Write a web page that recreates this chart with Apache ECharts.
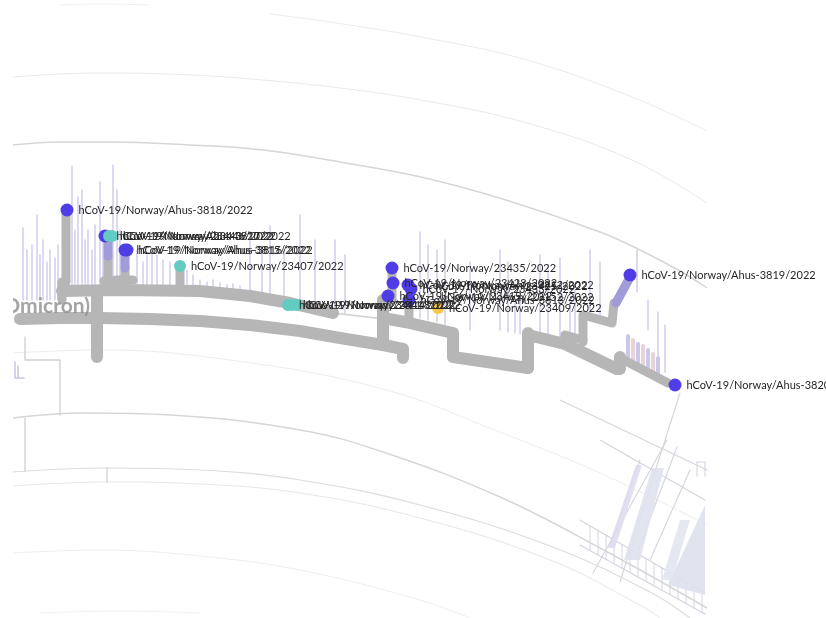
<!DOCTYPE html>
<html>
<head>
<meta charset="utf-8">
<script src="https://cdn.jsdelivr.net/npm/echarts@6/dist/echarts.min.js"></script>
<style>
html,body{margin:0;padding:0;background:#fff;}
#chart{width:826px;height:618px;}
</style>
</head>
<body>
<div id="chart"></div>
<script>
// Layout space of the radial tree view: x to the right, y downwards.

// Faint connector arcs of neighbouring clades
const guideArcs = [
  { pts: [[60,5],[100,4],[150,5]], color: '#f0f0f0', w: 1 },
  { pts: [[270,14],[330,22],[421,37],[527,60],[632,97],[707,131]], color: '#ebebeb', w: 1 },
  { pts: [[13,77],[60,74],[110,73],[190,75],[263,80],[340,88],[421,100],[527,123],[632,160],[707,203]], color: '#e9e9e9', w: 1 },
  { pts: [[13,145],[60,142],[110,142],[190,145],[263,150],[340,162],[421,177],[506,200],[600,232],[640,250],[680,271],[707,288]], color: '#d6d6d6', w: 1.5 },
  { pts: [[13,353],[100,350],[230,360],[383,389],[497,431],[600,473],[707,525]], color: '#ececec', w: 1 },
  { pts: [[13,418],[83,413],[170,415],[300,430],[383,452],[500,497],[600,548],[707,608]], color: '#d6d6d6', w: 1.5 },
  { pts: [[13,472],[107,468],[200,470],[300,480],[420,505],[550,546],[650,592],[690,618]], color: '#dcdcdc', w: 1.2 },
  { pts: [[13,486],[107,482],[200,484],[300,493],[420,518],[550,560],[640,605],[660,618]], color: '#e6e6e6', w: 1 },
  { pts: [[13,553],[100,550],[200,556],[300,570],[420,600],[470,618]], color: '#eeeeee', w: 1 },
  { pts: [[40,613],[120,611],[200,613]], color: '#f0f0f0', w: 1 }
];

// Thin connectors in the lower-left part of the view
const thinConnectors = [
  [[25,337],[25,360],[60,360],[60,415]],
  [[25,418],[25,471]],
  [[107,468],[107,482]],
  [[333,313],[393,320]],
  [[380,338],[402,344]]
];

// Small collapsed tips at the left edge
const edgeTips = [
  [[15,362],[15,378],[24,378]],
  [[18,366],[18,378]]
];

// Main trunk (thick grey)
const trunkPaths = [
  [[20,319],[60,318],[100,318],[150,319],[200,321],[250,325],[300,331],[340,338],[383,345],[403,349],[403,358]],
  [[62,291],[120,290],[200,291],[250,296],[290,303],[333,313]],
  [[97,291],[97,357]],
  [[383,300],[383,345]],
  [[383,318],[405,322],[453,333],[453,357],[528,368]],
  [[528,368],[528,333]],
  [[528,335],[565,344],[617,369],[620,369],[620,357]]
];

// Internal branches leading to sampled tips (grey)
const stemPaths = [
  [[66,214],[66,282],[62,282],[62,300]],
  [[108,256],[108,285]],
  [[104,281],[113,281]],
  [[125,268],[125,290]],
  [[116,280],[133,280]],
  [[180,270],[180,290]],
  [[392,272],[392,300]],
  [[409,300],[409,320]],
  [[565,344],[565,335],[583,340]],
  [[583,342],[583,315],[612,323],[614,303]],
  [[620,358],[668,383]]
];

// Terminal branches coloured by sample group (purple)
const tintedStems = [
  [[108,241],[108,256]],
  [[125,255],[125,268]],
  [[616,303],[629,279]]
];

// Other tips of the clade: [x, top, bottom]
const tipLines = [
  [23,228,300],[27,250,300],[32,245,300],[37,215,300],[40,255,300],[43,240,300],[47,262,300],
  [50,250,300],[55,258,300],[58,245,300],[72,166,290],[75,230,290],[78,197,290],[82,190,290],
  [85,240,290],[88,230,290],[92,250,290],[95,225,290],[100,182,290],[103,235,290],[113,165,290],
  [117,190,290],[120,230,290],[137,250,290],[143,262,290],[147,255,290],[152,250,290],[157,255,290],
  [163,260,290],[170,262,290],[187,270,292],[193,275,292],[200,280,293],[207,282,293],[213,280,294],
  [220,283,295],[227,285,296],[233,284,296],[240,286,297],[250,232,300],[262,246,301],[270,226,302],
  [284,250,304],[300,215,306],[315,240,308],[335,240,312],[345,255,313],
  [420,232,318],[428,245,320],[437,250,322],[445,240,325],[470,262,330],[500,250,330],[508,262,332],
  [515,300,333],[520,290,334],[540,255,340],[548,265,341],[560,258,343],[570,300,345],[575,290,345],
  [590,250,315],[600,262,320],[637,250,292],[648,300,330],[658,312,360],[665,325,372]
];

// Short tips along the lower right branch: [x, top, bottom]
const shortTips = [
  [628,336,362],[633,340,364],[638,344,366],[643,346,368],[648,350,371],[653,354,373],[658,358,376]
];

// Dense clade in the lower right corner: slanted branch segments
const cornerLines = [
  [[680,393],[620,582]],
  [[667,440],[593,573]],
  [[640,460],[610,547]],
  [[677,447],[637,553]],
  [[690,470],[650,560]],
  [[697,462],[697,476]],[[705,462],[705,476]],[[697,462],[705,462]],
  [[580,520],[705,593]],
  [[580,545],[705,614]],
  [[600,440],[705,500]],
  [[560,400],[707,470]]
];
const cornerTicks = [590,598,606,614,622,630,638,646,654,662,670,678,686,694,702];

// Filled clade blocks in the lower right corner
const cornerBlocks = [
  { pts: [[652,468],[664,468],[640,560],[624,560]], color: '#dfe2ee' },
  { pts: [[705,505],[705,595],[668,585]], color: '#dde1ec' },
  { pts: [[636,465],[642,465],[615,548],[608,548]], color: '#e0dcef' },
  { pts: [[680,520],[690,520],[672,580],[662,580]], color: '#e2e6ef' }
];

// Sampled tips (Norway)
const blueTips = [
  { name: 'hCoV-19/Norway/Ahus-3818/2022', value: [67,210] },
  { name: 'hCoV-19/Norway/Ahus-3817/2022', value: [105,236] },
  { name: 'hCoV-19/Norway/Ahus-3815/2022', value: [125,250] },
  { name: 'hCoV-19/Norway/Ahus-3816/2022', value: [127,250] },
  { name: 'hCoV-19/Norway/23435/2022', value: [392,268] },
  { name: 'hCoV-19/Norway/23428/2022', value: [393,283] },
  { name: 'hCoV-19/Norway/Ahus-3812/2022', value: [408,285] },
  { name: 'hCoV-19/Norway/23433/2022', value: [411,289] },
  { name: 'hCoV-19/Norway/23419/2022', value: [388,296] },
  { name: 'hCoV-19/Norway/Ahus-3813/2022', value: [409,300] },
  { name: 'hCoV-19/Norway/Ahus-3819/2022', value: [630,275] },
  { name: 'hCoV-19/Norway/Ahus-3820/2022', value: [675,385] }
];
const tealTips = [
  { name: 'hCoV-19/Norway/23443/2022', value: [109,236] },
  { name: 'hCoV-19/Norway/23446/2022', value: [112,236] },
  { name: 'hCoV-19/Norway/23407/2022', value: [180,266] },
  { name: 'hCoV-19/Norway/23411/2022', value: [288,305] },
  { name: 'hCoV-19/Norway/23414/2022', value: [292,305] },
  { name: 'hCoV-19/Norway/23418/2022', value: [297,305] }
];
const yellowTips = [
  { name: 'hCoV-19/Norway/23409/2022', value: [438,308] }
];
// Tips whose circles sit under neighbouring labels
const coveredTips = [
  { name: 'hCoV-19/Norway/23425/2022', value: [430,286] },
  { name: 'hCoV-19/Norway/23152/2022', value: [436,297] }
];

// Clade label
const cladeLabels = [ { name: '21K (Omicron)', value: [90,306] } ];

const GREY = '#b6b6b6';
const series = [];

guideArcs.forEach(a => {
  series.push({
    type: 'line', data: a.pts, smooth: 0.4, showSymbol: false, silent: true, z: 1,
    lineStyle: { color: a.color, width: a.w }
  });
});

const linesSeries = (paths, color, width, z, opacity) => ({
  type: 'lines', coordinateSystem: 'cartesian2d', polyline: true, silent: true, z: z,
  data: paths.map(p => ({ coords: p })),
  lineStyle: { color: color, width: width, opacity: opacity == null ? 1 : opacity, cap: 'round', join: 'round' }
});

series.push(linesSeries(thinConnectors, '#cfcfcf', 1.3, 2));
series.push(linesSeries(edgeTips, '#c7c3e3', 1.5, 2));
series.push(linesSeries(tipLines.map(t => [[t[0], t[1]], [t[0], t[2]]]), '#cdc9ec', 1.4, 2));
series.push(linesSeries(cornerLines, '#d3d4de', 1.1, 2));
series.push(linesSeries(cornerTicks.map((x, i) => {
  const t = (x - 580) / 125;
  const y1 = 520 + t * 73, y2 = 545 + t * 69;
  return [[x, y1], [x, y2]];
}), '#d3d6e2', 1, 2));
series.push({
  type: 'custom', silent: true, z: 2,
  data: cornerBlocks.map(b => b.pts[0]),
  renderItem: (params, api) => {
    const b = cornerBlocks[params.dataIndex];
    return { type: 'polygon', shape: { points: b.pts.map(p => api.coord(p)) }, style: { fill: b.color, opacity: 0.9 } };
  }
});
series.push(linesSeries(shortTips.filter((t, i) => i % 2 === 0).map(t => [[t[0], t[1]], [t[0], t[2]]]), '#cbc7e8', 4, 3));
series.push(linesSeries(shortTips.filter((t, i) => i % 2 === 1).map(t => [[t[0], t[1]], [t[0], t[2]]]), '#e8d3db', 4, 3));

series.push(linesSeries(trunkPaths, GREY, 12, 4));
series.push(linesSeries(stemPaths, GREY, 9, 4));
series.push(linesSeries(tintedStems, '#a29bd9', 9, 4));

// Clade name
series.push({
  type: 'scatter', data: cladeLabels, symbolSize: 0, silent: true, z: 6,
  label: { show: true, position: 'left', distance: 0, formatter: '{b}',
    fontFamily: 'Lato', fontWeight: 'bold', fontSize: 21, color: '#8d8d8d' }
});

const tipLabel = {
  show: true, position: 'right', distance: 5, formatter: '{b}',
  fontFamily: 'Lato', fontSize: 11, color: '#262626'
};
const tipSeries = (data, color, size) => ({
  type: 'scatter', data: data, symbol: 'circle', symbolSize: size, silent: true, z: 7,
  itemStyle: { color: color, opacity: 1 },
  label: tipLabel,
  labelLayout: { hideOverlap: false }
});
series.push(tipSeries(coveredTips, 'transparent', 0));
series.push(tipSeries(blueTips, '#4f3ee6', 13));
series.push(tipSeries(tealTips, '#62ccc3', 12));
series.push(tipSeries(yellowTips, '#f5c846', 12));

const chart = echarts.init(document.getElementById('chart'), null, { renderer: 'canvas' });
chart.setOption({
  animation: false,
  backgroundColor: '#ffffff',
  grid: { left: 0, right: 0, top: 0, bottom: 0 },
  xAxis: { type: 'value', min: 0, max: 826, show: false },
  yAxis: { type: 'value', min: 0, max: 618, inverse: true, show: false },
  graphic: [{
    type: 'rect', left: 0, top: 0, zlevel: 2,
    shape: { width: 13, height: 618 },
    style: { fill: '#ffffff' }
  }],
  series: series
});
</script>
</body>
</html>
